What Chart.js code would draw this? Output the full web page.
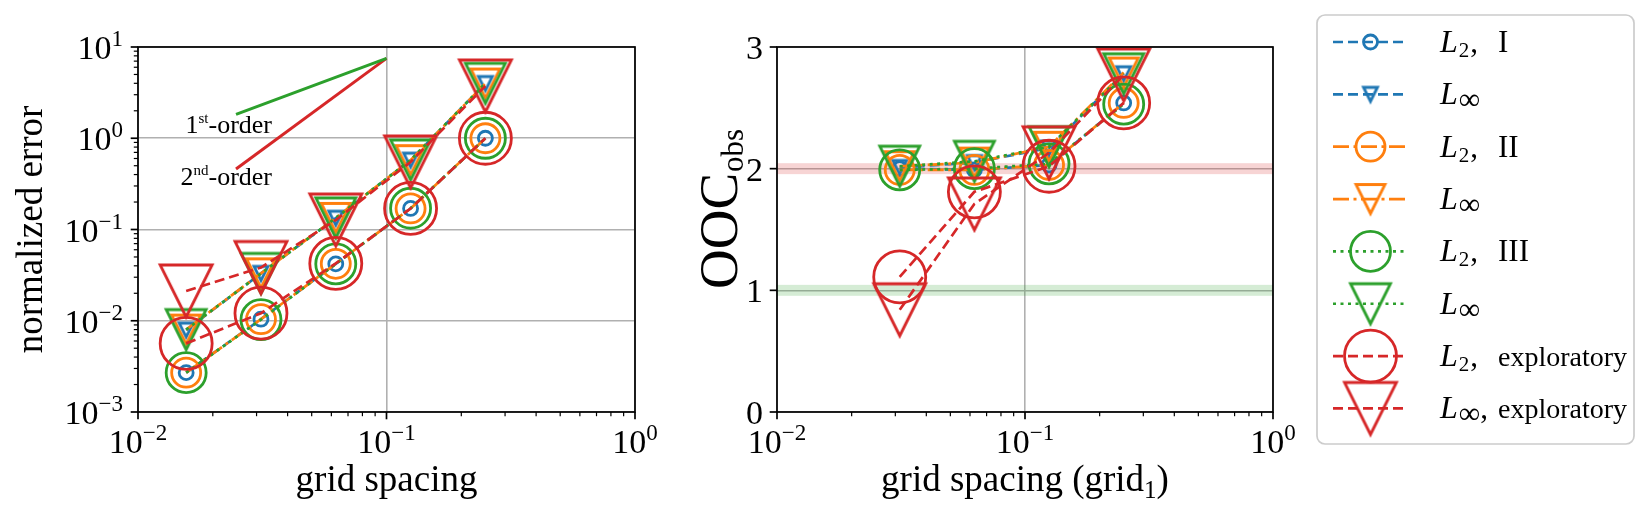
<!DOCTYPE html>
<html>
<head>
<meta charset="utf-8">
<script src="https://cdn.jsdelivr.net/npm/chart.js@4.4.1/dist/chart.umd.min.js"></script>
<style>
  body { margin: 0; background: #fff; }
  #wrap { position: relative; width: 1642px; height: 521px; }
  #errChart { position: absolute; left: 0; top: 0; }
  #oocChart { position: absolute; left: 680px; top: 0; }
</style>
</head>
<body>
<div id="wrap">
  <canvas id="errChart" width="680" height="521"></canvas>
  <canvas id="oocChart" width="962" height="521"></canvas>
</div>
<script>
// grid spacings
const spacing = [0.015625, 0.03125, 0.0625, 0.125, 0.25];
const spacingOOC = [0.03125, 0.0625, 0.125, 0.25];

// normalized errors (left panel)
const errL2I = [0.0027, 0.0104, 0.0420, 0.170, 1.0];
const errLinfI = [0.0079, 0.0330, 0.133, 0.575, 3.98];
const errL2II = [0.0027, 0.0104, 0.0421, 0.170, 1.0];
const errLinfII = [0.0080, 0.0331, 0.134, 0.575, 3.98];
const errL2III = [0.0027, 0.0103, 0.0420, 0.171, 1.0];
const errLinfIII = [0.0080, 0.0330, 0.134, 0.578, 4.0];
const errL2Exp = [0.00565, 0.0121, 0.0425, 0.170, 1.0];
const errLinfExp = [0.0212, 0.0383, 0.127, 0.55, 3.74];

// observed order of convergence (right panel)
const oocL2I = [2.00, 1.99, 2.03, 2.54];
const oocLinfI = [2.01, 2.05, 2.17, 2.78];
const oocL2II = [1.99, 1.99, 2.03, 2.54];
const oocLinfII = [2.02, 2.05, 2.18, 2.79];
const oocL2III = [1.99, 2.00, 2.04, 2.53];
const oocLinfIII = [2.02, 2.06, 2.18, 2.78];
const oocL2Exp = [1.11, 1.81, 2.02, 2.54];
const oocLinfExp = [0.84, 1.71, 2.13, 2.77];

// reference slopes
const slopeX = [0.0248, 0.1];
const slope1Y = [1.83, 7.5];
const slope2Y = [0.46, 7.5];

// shaded target orders
const targetOrders = [2, 1];
const targetHalfWidth = 0.045;

// ticks
const xMajorTicks = [0.01, 0.1, 1];
const errMajorTicks = [0.001, 0.01, 0.1, 1, 10];
const oocTicks = [0, 1, 2, 3];
const expLabels = { 0.001: '\u22123', 0.01: '\u22122', 0.1: '\u22121', 1: '0', 10: '1' };

// legend
const legendSubs = ['2', '\u221e', '2', '\u221e', '2', '\u221e', '2', '\u221e'];
const legendWords = ['I', '', 'II', '', 'III', '', 'exploratory', 'exploratory'];

const SERIF = '"Liberation Serif", "DejaVu Serif", serif';
Chart.defaults.font.family = SERIF;

const C = { blue: '#1f77b4', orange: '#ff7f0e', green: '#2ca02c', red: '#d62728' };
const LW = 2.7;
const MW = 2.8;
const DASHED = [10, 5];
const DASHDOT = [16, 4.5, 3, 4.5];
const DOTTED = [3, 4.5];

function triangleMarker(size, color) {
  let d = Math.ceil(size + 3 * MW) + 2;
  if (d % 2) d++;
  const cv = document.createElement('canvas');
  cv.width = d; cv.height = d;
  const g = cv.getContext('2d');
  g.translate(d / 2, d / 2);
  g.strokeStyle = color;
  g.lineWidth = MW;
  g.lineJoin = 'miter';
  g.beginPath();
  g.moveTo(-size / 2, -size / 2);
  g.lineTo(size / 2, -size / 2);
  g.lineTo(0, size / 2);
  g.closePath();
  g.stroke();
  return cv;
}

const series = [
  { err: errL2I, ooc: oocL2I, color: C.blue, dash: DASHED, tri: false, size: 14 },
  { err: errLinfI, ooc: oocLinfI, color: C.blue, dash: DASHED, tri: true, size: 14 },
  { err: errL2II, ooc: oocL2II, color: C.orange, dash: DASHDOT, tri: false, size: 29 },
  { err: errLinfII, ooc: oocLinfII, color: C.orange, dash: DASHDOT, tri: true, size: 29 },
  { err: errL2III, ooc: oocL2III, color: C.green, dash: DOTTED, tri: false, size: 40 },
  { err: errLinfIII, ooc: oocLinfIII, color: C.green, dash: DOTTED, tri: true, size: 40 },
  { err: errL2Exp, ooc: oocL2Exp, color: C.red, dash: DASHED, tri: false, size: 52 },
  { err: errLinfExp, ooc: oocLinfExp, color: C.red, dash: DASHED, tri: true, size: 52 },
];
series.forEach(s => { if (s.tri) s.img = triangleMarker(s.size, s.color); });

function makeDataset(s, i, xs, ys) {
  return {
    data: xs.map((x, k) => ({ x: x, y: ys[k] })),
    showLine: true,
    borderColor: s.color,
    borderWidth: LW,
    borderDash: s.dash,
    borderCapStyle: 'butt',
    fill: false,
    tension: 0,
    pointStyle: s.tri ? s.img : 'circle',
    pointRadius: s.size / 2,
    pointBorderWidth: MW,
    pointBorderColor: s.color,
    pointBackgroundColor: 'rgba(0,0,0,0)',
    clip: false,
    order: series.length - i + 1,
  };
}

function logTicks(majors) {
  const out = majors.map(v => ({ value: v, major: true }));
  for (let k = 0; k < majors.length - 1; k++) {
    for (let m = 2; m <= 9; m++) out.push({ value: m * majors[k], major: false });
  }
  return out.sort((a, b) => a.value - b.value);
}

function gridColor(ctx) {
  return ctx.tick && ctx.tick.major ? '#b0b0b0' : 'rgba(0,0,0,0)';
}

function drawPow(c, x, base, exp, align) {
  c.font = '34px ' + SERIF;
  const wb = c.measureText('10').width;
  c.font = '23px ' + SERIF;
  const we = c.measureText(exp).width;
  const total = wb + we;
  const x0 = align === 'center' ? x - total / 2 : x - total;
  c.textAlign = 'left';
  c.textBaseline = 'alphabetic';
  c.font = '34px ' + SERIF;
  c.fillText('10', x0, base);
  c.font = '23px ' + SERIF;
  c.fillText(exp, x0 + wb, base - 13);
}

function drawScaleTicks(c, scale, a, horizontal) {
  c.strokeStyle = '#000';
  scale.ticks.forEach(t => {
    const p = scale.getPixelForValue(t.value);
    const len = t.major ? 7.3 : 4.2;
    c.lineWidth = t.major ? 1.7 : 1.2;
    c.beginPath();
    if (horizontal) { c.moveTo(p, a.bottom); c.lineTo(p, a.bottom + len); }
    else { c.moveTo(a.left, p); c.lineTo(a.left - len, p); }
    c.stroke();
  });
}

function axesDecor(opts) {
  return {
    id: 'axesDecor',
    beforeDatasetsDraw(chart) {
      if (opts.bands) opts.bands(chart);
    },
    afterDraw(chart) {
      const c = chart.ctx, a = chart.chartArea;
      const xs = chart.scales.x, ys = chart.scales.y;
      c.save();
      c.setLineDash([]);
      drawScaleTicks(c, xs, a, true);
      drawScaleTicks(c, ys, a, false);
      c.lineWidth = 1.7;
      c.strokeStyle = '#000';
      c.strokeRect(a.left, a.top, a.right - a.left, a.bottom - a.top);
      c.fillStyle = '#000';
      xs.ticks.filter(t => t.major).forEach(t => {
        drawPow(c, xs.getPixelForValue(t.value), a.bottom + 41, expLabels[t.value], 'center');
      });
      ys.ticks.filter(t => t.major).forEach(t => {
        const p = ys.getPixelForValue(t.value);
        if (opts.logY) {
          drawPow(c, a.left - 15, p + 12, expLabels[t.value], 'right');
        } else {
          c.font = '34px ' + SERIF;
          c.textAlign = 'right';
          c.textBaseline = 'alphabetic';
          c.fillText(String(t.value), a.left - 14, p + 12);
        }
      });
      opts.labels(c, a);
      c.restore();
    }
  };
}

function supText(c, xRight, base, pre, sup, post) {
  const big = '26px ' + SERIF, small = '15px ' + SERIF;
  c.font = big; const w1 = c.measureText(pre).width; const w3 = c.measureText(post).width;
  c.font = small; const w2 = c.measureText(sup).width;
  let x = xRight - (w1 + w2 + w3);
  c.textAlign = 'left'; c.textBaseline = 'alphabetic';
  c.font = big; c.fillText(pre, x, base); x += w1;
  c.font = small; c.fillText(sup, x, base - 10); x += w2;
  c.font = big; c.fillText(post, x, base);
}

// ---------- left panel: normalized error ----------
const errDatasets = series.map((s, i) => makeDataset(s, i, spacing, s.err));
errDatasets.push({
  data: slopeX.map((x, k) => ({ x: x, y: slope1Y[k] })),
  showLine: true, borderColor: C.green, borderWidth: 3, pointRadius: 0, fill: false, order: 20,
});
errDatasets.push({
  data: slopeX.map((x, k) => ({ x: x, y: slope2Y[k] })),
  showLine: true, borderColor: C.red, borderWidth: 3, pointRadius: 0, fill: false, order: 20,
});

new Chart(document.getElementById('errChart'), {
  type: 'scatter',
  data: { datasets: errDatasets },
  options: {
    responsive: false,
    animation: false,
    events: [],
    layout: { padding: { top: 47, right: 45, left: 0, bottom: 0 } },
    plugins: { legend: { display: false }, tooltip: { enabled: false } },
    scales: {
      x: {
        type: 'logarithmic', min: 0.01, max: 1,
        afterBuildTicks: s => { s.ticks = logTicks(xMajorTicks); },
        afterFit: s => { s.height = 109; },
        grid: { color: gridColor, lineWidth: 1.6, drawTicks: false },
        border: { display: false },
        ticks: { display: false },
      },
      y: {
        type: 'logarithmic', min: 0.001, max: 10,
        afterBuildTicks: s => { s.ticks = logTicks(errMajorTicks); },
        afterFit: s => { s.width = 138; },
        grid: { color: gridColor, lineWidth: 1.6, drawTicks: false },
        border: { display: false },
        ticks: { display: false },
      },
    },
  },
  plugins: [axesDecor({
    logY: true,
    labels(c, a) {
      c.font = '37px ' + SERIF;
      c.textAlign = 'center';
      c.textBaseline = 'alphabetic';
      c.fillText('grid spacing', (a.left + a.right) / 2, 491);
      c.save();
      c.translate(42, (a.top + a.bottom) / 2);
      c.rotate(-Math.PI / 2);
      c.fillText('normalized error', 0, 0);
      c.restore();
      supText(c, 272, 133, '1', 'st', '-order');
      supText(c, 272, 185, '2', 'nd', '-order');
    }
  })],
});

// ---------- right panel: observed order of convergence ----------
const oocDatasets = series.map((s, i) => makeDataset(s, i, spacingOOC, s.ooc));
const bandColors = ['rgba(214,39,40,0.2)', 'rgba(44,160,44,0.2)'];
const LEG_OFF = 680;

function drawLegend(c) {
  const bx = 1317 - LEG_OFF, by = 15, bw = 317, bh = 429;
  c.save();
  c.beginPath();
  c.roundRect(bx, by, bw, bh, 8);
  c.fillStyle = 'rgba(255,255,255,0.8)';
  c.fill();
  c.lineWidth = 1.7;
  c.strokeStyle = '#cccccc';
  c.stroke();
  series.forEach((s, i) => {
    const y = 42 + i * 52.35;
    c.strokeStyle = s.color;
    c.lineWidth = LW;
    c.lineCap = 'butt';
    c.setLineDash(s.dash);
    c.beginPath();
    c.moveTo(1333 - LEG_OFF, y);
    c.lineTo(1408 - LEG_OFF, y);
    c.stroke();
    c.setLineDash([]);
    const mx = 1370.5 - LEG_OFF;
    if (s.tri) {
      c.drawImage(s.img, mx - s.img.width / 2, y - s.img.height / 2);
    } else {
      c.lineWidth = MW;
      c.beginPath();
      c.arc(mx, y, s.size / 2, 0, Math.PI * 2);
      c.stroke();
    }
    // label
    c.fillStyle = '#000';
    c.textAlign = 'left';
    c.textBaseline = 'alphabetic';
    let x = 1440 - LEG_OFF;
    c.font = 'italic 32px ' + SERIF;
    c.fillText('L', x, y + 10);
    x += c.measureText('L').width + 1;
    const sub = legendSubs[i];
    if (sub === '\u221e') {
      c.font = '30px ' + SERIF;
      c.fillText(sub, x, y + 15);
      x += c.measureText(sub).width;
    } else {
      c.font = '21px ' + SERIF;
      c.fillText(sub, x, y + 15);
      x += c.measureText(sub).width + 1;
    }
    const word = legendWords[i];
    if (word) {
      c.font = '31px ' + SERIF;
      c.fillText(',', x, y + 10);
      if (word === 'exploratory') {
        c.font = '28px ' + SERIF;
      }
      c.fillText(word, 1498 - LEG_OFF, y + 10);
    }
  });
  c.restore();
}

new Chart(document.getElementById('oocChart'), {
  type: 'scatter',
  data: { datasets: oocDatasets },
  options: {
    responsive: false,
    animation: false,
    events: [],
    layout: { padding: { top: 47, right: 369, left: 0, bottom: 0 } },
    plugins: { legend: { display: false }, tooltip: { enabled: false } },
    scales: {
      x: {
        type: 'logarithmic', min: 0.01, max: 1,
        afterBuildTicks: s => { s.ticks = logTicks(xMajorTicks); },
        afterFit: s => { s.height = 109; },
        grid: { color: gridColor, lineWidth: 1.6, drawTicks: false },
        border: { display: false },
        ticks: { display: false },
      },
      y: {
        type: 'linear', min: 0, max: 3,
        afterBuildTicks: s => { s.ticks = oocTicks.map(v => ({ value: v, major: true })); },
        afterFit: s => { s.width = 97; },
        grid: { color: gridColor, lineWidth: 1.6, drawTicks: false },
        border: { display: false },
        ticks: { display: false },
      },
    },
  },
  plugins: [axesDecor({
    logY: false,
    bands(chart) {
      const c = chart.ctx, a = chart.chartArea, ys = chart.scales.y;
      c.save();
      targetOrders.forEach((v, k) => {
        const y1 = ys.getPixelForValue(v + targetHalfWidth);
        const y2 = ys.getPixelForValue(v - targetHalfWidth);
        c.fillStyle = bandColors[k];
        c.fillRect(a.left, y1, a.right - a.left, y2 - y1);
      });
      c.restore();
    },
    labels(c, a) {
      const cx = (a.left + a.right) / 2;
      const big = '37px ' + SERIF, small = '25px ' + SERIF;
      c.font = big;
      const w1 = c.measureText('grid spacing (grid').width;
      const w3 = c.measureText(')').width;
      c.font = small;
      const w2 = c.measureText('1').width;
      let x = cx - (w1 + w2 + w3) / 2;
      c.textAlign = 'left';
      c.textBaseline = 'alphabetic';
      c.font = big; c.fillText('grid spacing (grid', x, 491); x += w1;
      c.font = small; c.fillText('1', x, 498); x += w2;
      c.font = big; c.fillText(')', x, 491);
      // rotated y label
      c.save();
      c.translate(737 - LEG_OFF, 289);
      c.rotate(-Math.PI / 2);
      c.font = '55px ' + SERIF;
      c.fillText('OOC', 0, 0);
      const wo = c.measureText('OOC').width;
      c.font = '31px ' + SERIF;
      c.fillText('obs', wo + 1, 6);
      c.restore();
      drawLegend(c);
    }
  })],
});
</script>
</body>
</html>
